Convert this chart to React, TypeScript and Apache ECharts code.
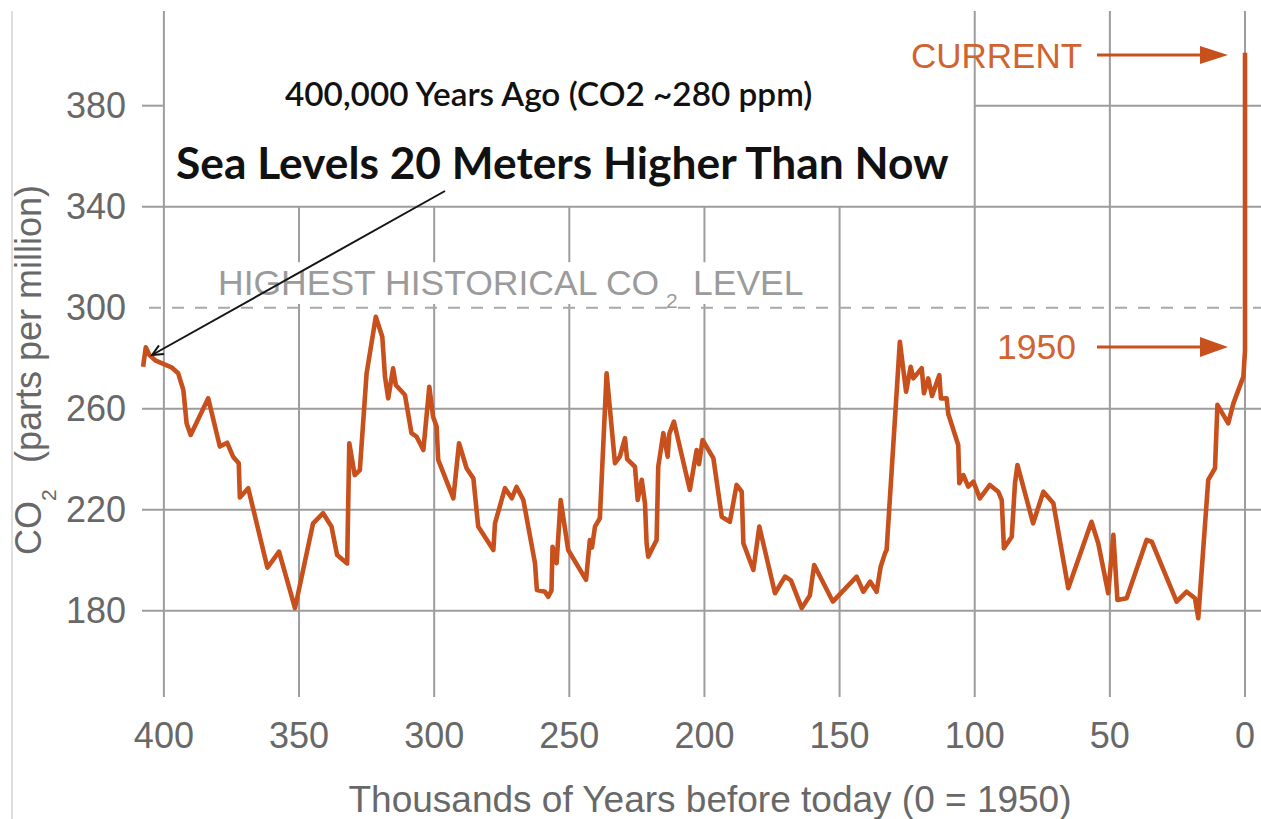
import React, { useEffect, useRef } from 'react';
import * as echarts from 'echarts';

// ---- axis definitions ----
const X_TICKS = [400, 350, 300, 250, 200, 150, 100, 50, 0];
const Y_TICKS = [180, 220, 260, 300, 340, 380];
const HIGHEST_HISTORICAL = 300;
const X_MIN = -5.92;
const X_MAX = 408.1;
const Y_MIN = 145.8;
const Y_MAX = 417.5;

// grid segments in data units (the reference leaves gaps behind its annotations)
// vertical: [x, yTop, yBottom]
const V_GRID = [
  [400, Y_MAX, Y_MIN],
  [350, 340, 318], [350, 301.5, Y_MIN],
  [300, 340, 318], [300, 301.5, Y_MIN],
  [250, 340, 318], [250, 301.5, Y_MIN],
  [200, 340, 318], [200, 301.5, Y_MIN],
  [150, 340, Y_MIN],
  [100, Y_MAX, Y_MIN],
  [50, Y_MAX, Y_MIN],
  [0, Y_MAX, Y_MIN],
];
// horizontal: [xFrom, y, xTo]
const H_GRID = [
  [X_MAX, 380, 400], [100, 380, X_MIN],
  [X_MAX, 340, X_MIN],
  [X_MAX, 260, X_MIN],
  [X_MAX, 220, X_MIN],
  [X_MAX, 180, X_MIN],
];

// ---- data: thousands of years before 1950, CO2 ppm ----
const YEARS_KYR = [
  407.7, 406.7, 405.4, 403.0, 397.2, 394.7, 392.8, 391.6, 390.1, 383.6,
  379.3, 376.6, 374.4, 372.3, 371.9, 368.8, 361.7, 357.4, 351.5, 344.8,
  341.1, 338.0, 335.9, 332.2, 331.4, 329.4, 327.5, 325.0, 321.6, 319.2,
  318.2, 317.0, 315.2, 314.2, 310.8, 308.4, 306.5, 304.0, 301.8, 300.4,
  299.1, 298.5, 292.9, 290.8, 288.0, 285.5, 283.7, 278.1, 277.5, 273.8,
  271.3, 269.5, 267.0, 262.7, 262.0, 259.0, 257.8, 256.6, 256.2, 254.7,
  253.2, 250.4, 243.8, 242.4, 241.6, 240.5, 238.7, 236.2, 233.1, 231.3,
  229.4, 228.6, 225.7, 224.7, 223.2, 222.0, 221.4, 220.8, 217.7, 217.1,
  215.2, 213.6, 213.0, 211.3, 205.4, 202.9, 202.0, 200.7, 196.7, 193.6,
  190.6, 188.1, 186.2, 185.6, 181.9, 179.7, 173.9, 170.2, 168.0, 164.0,
  161.0, 159.4, 152.5, 143.7, 141.2, 138.7, 136.3, 134.8, 133.2, 132.6,
  127.7, 125.4, 123.7, 122.7, 119.6, 118.8, 117.2, 115.8, 113.1, 112.5,
  110.4, 109.8, 106.1, 105.7, 104.2, 102.4, 100.5, 98.1, 94.4, 91.3,
  90.0, 89.2, 86.3, 85.1, 84.2, 78.4, 74.6, 70.9, 65.4, 56.8,
  54.3, 50.6, 48.7, 47.2, 43.8, 36.4, 34.5, 25.3, 21.6, 18.5,
  17.3, 13.6, 11.1, 10.2, 6.2, 4.3, 0.6, 0.0, 0.0,
];
const CO2_PPM = [
  276.6, 284.3, 281.3, 279.0, 276.4, 274.0, 267.4, 254.2, 249.6, 264.1,
  245.0, 246.5, 241.0, 238.4, 224.8, 228.5, 197.0, 203.4, 181.0, 214.6,
  218.6, 213.3, 202.0, 198.7, 246.3, 233.7, 235.7, 274.0, 296.4, 288.5,
  272.7, 264.1, 276.0, 269.4, 265.4, 250.3, 248.9, 243.6, 268.7, 256.8,
  252.9, 239.7, 224.5, 246.3, 236.4, 232.4, 213.3, 204.0, 214.6, 228.5,
  224.5, 229.0, 223.8, 198.8, 188.2, 187.5, 185.5, 188.0, 205.3, 198.8,
  223.8, 204.0, 192.2, 208.0, 205.0, 213.3, 216.6, 274.0, 238.4, 241.0,
  248.3, 240.0, 237.0, 223.8, 231.8, 222.5, 206.7, 201.4, 208.0, 237.0,
  250.3, 241.0, 250.0, 254.9, 227.8, 243.6, 238.0, 247.6, 240.4, 217.2,
  215.2, 229.8, 227.1, 206.7, 196.1, 213.3, 186.9, 193.5, 192.0, 181.0,
  186.0, 198.1, 183.6, 193.5, 187.5, 191.5, 187.5, 197.4, 202.7, 204.0,
  286.5, 266.7, 276.6, 272.0, 276.0, 266.1, 272.0, 265.0, 273.3, 264.0,
  264.1, 258.0, 245.6, 230.5, 233.7, 229.1, 231.1, 224.5, 229.8, 227.1,
  223.8, 204.7, 209.3, 230.5, 237.7, 214.6, 227.1, 222.5, 188.9, 215.2,
  206.7, 186.9, 210.0, 184.2, 184.9, 208.0, 207.3, 183.6, 187.5, 184.9,
  177.0, 231.8, 236.4, 261.5, 254.2, 262.1, 272.7, 283.0, 401.0,
];

// ---- texts ----
const X_TITLE = 'Thousands of Years before today (0 = 1950)';
const NOTE_1 = '400,000 Years Ago (CO2 ~280 ppm)';
const NOTE_2 = 'Sea Levels 20 Meters Higher Than Now';

const FONT = '"Liberation Sans", Arial, Helvetica, sans-serif';
const NOTE_FONT = 'Lato, "Open Sans", sans-serif';
const LINE_COLOR = '#c8501c';
const LABEL_ORANGE = '#d0632f';
const GRID_COLOR = '#9d9d9d';
const AXIS_TEXT = '#686868';

function fitSize(text: string, weight: string | number, family: string, target: number, base = 40) {
  try {
    const ctx = document.createElement('canvas').getContext('2d');
    if (!ctx) return base;
    ctx.font = `${weight} ${base}px ${family}`;
    const w = ctx.measureText(text).width;
    return w > 0 ? (base * target) / w : base;
  } catch (e) {
    return base;
  }
}

export default function App() {
  const ref = useRef<HTMLDivElement>(null);

  useEffect(() => {
    document.body.style.margin = '0';
    if (!ref.current) return;
    const chart = echarts.init(ref.current, null, { renderer: 'svg' });

    const lineData = YEARS_KYR.map((x, i) => [x, CO2_PPM[i]]);

    const baseOption: any = {
      animation: false,
      textStyle: { fontFamily: FONT },
      grid: { left: 142, right: 0, top: 11, bottom: 122 },
      xAxis: {
        type: 'value',
        min: X_MIN,
        max: X_MAX,
        inverse: true,
        axisLine: { show: false },
        axisTick: { show: false },
        splitLine: { show: false },
        axisLabel: { customValues: X_TICKS, fontSize: 36, color: AXIS_TEXT, margin: 20, fontFamily: FONT },
      },
      yAxis: {
        type: 'value',
        min: Y_MIN,
        max: Y_MAX,
        axisLine: { show: false },
        axisTick: { show: false },
        splitLine: { show: false },
        axisLabel: { customValues: Y_TICKS, fontSize: 36, color: AXIS_TEXT, margin: 16, fontFamily: FONT },
      },
      series: [
        {
          type: 'line',
          name: 'CO2',
          z: 3,
          data: lineData,
          showSymbol: false,
          symbol: 'none',
          smooth: false,
          lineStyle: { color: LINE_COLOR, width: 4.6, join: 'round' },
          itemStyle: { color: LINE_COLOR },
        },
      ],
    };
    chart.setOption(baseOption);

    // grid lines placed through the chart's own scales
    const px = (x: number, y: number) => chart.convertToPixel({ xAxisIndex: 0, yAxisIndex: 0 }, [x, y]) as number[];
    const gridEls: any[] = [];
    V_GRID.forEach((d) => {
      const a = px(d[0], d[1]);
      const b = px(d[0], d[2]);
      gridEls.push({ type: 'line', z: 1, silent: true, shape: { x1: a[0], y1: a[1], x2: b[0], y2: b[1] }, style: { stroke: GRID_COLOR, lineWidth: 2 } });
    });
    H_GRID.forEach((d) => {
      const a = px(d[0], d[1]);
      const b = px(d[2], d[1]);
      gridEls.push({ type: 'line', z: 1, silent: true, shape: { x1: a[0], y1: a[1], x2: b[0], y2: b[1] }, style: { stroke: GRID_COLOR, lineWidth: 2 } });
    });
    {
      const a = px(X_MAX, HIGHEST_HISTORICAL);
      const b = px(X_MIN, HIGHEST_HISTORICAL);
      gridEls.push({
        type: 'line', z: 1, silent: true,
        shape: { x1: a[0] + 7, y1: a[1], x2: b[0], y2: b[1] },
        style: { stroke: '#a9a9a9', lineWidth: 2, lineDash: [12, 11] },
      });
    }

    const note1Size = fitSize(NOTE_1, 600, NOTE_FONT, 530, 30);
    const note2Size = fitSize(NOTE_2, 700, NOTE_FONT, 775, 44);

    const t = (x: number, y: number, text: string, size: number, fill: string, extra: any = {}) => ({
      type: 'text', z: 10, x, y, rotation: extra.rotation || 0,
      style: {
        text, fontSize: size, fontFamily: extra.family || FONT, fontWeight: extra.weight || 'normal',
        fill, align: extra.align || 'left', verticalAlign: 'middle',
      },
    });

    const annotationEls: any[] = [
      { type: 'line', z: 1, shape: { x1: 12, y1: 11, x2: 12, y2: 819 }, style: { stroke: '#dedede', lineWidth: 2 } },
      t(218, 283, 'HIGHEST HISTORICAL CO', 35.5, '#9b9b9b'),
      t(666, 300, '2', 21, '#9b9b9b'),
      t(693, 283, 'LEVEL', 35.5, '#9b9b9b'),
      t(28, 555, 'CO', 36, AXIS_TEXT, { rotation: Math.PI / 2 }),
      t(48, 501, '2', 21, AXIS_TEXT, { rotation: Math.PI / 2 }),
      t(28, 463, '(parts per million)', 36, AXIS_TEXT, { rotation: Math.PI / 2 }),
      t(710, 799, X_TITLE, 37, AXIS_TEXT, { align: 'center' }),
      t(911, 55, 'CURRENT', 35, LABEL_ORANGE),
      { type: 'line', z: 10, shape: { x1: 1097, y1: 55, x2: 1204, y2: 55 }, style: { stroke: LINE_COLOR, lineWidth: 3 } },
      { type: 'polygon', z: 10, shape: { points: [[1228, 55], [1200, 46], [1200, 64]] }, style: { fill: LINE_COLOR } },
      t(997, 347, '1950', 35.5, LABEL_ORANGE),
      { type: 'line', z: 10, shape: { x1: 1097, y1: 347, x2: 1204, y2: 347 }, style: { stroke: LINE_COLOR, lineWidth: 3 } },
      { type: 'polygon', z: 10, shape: { points: [[1228, 347], [1200, 337], [1200, 357]] }, style: { fill: LINE_COLOR } },
      t(285, 93, NOTE_1, note1Size, '#111111', { family: NOTE_FONT, weight: 600 }),
      t(176, 161, NOTE_2, note2Size, '#111111', { family: NOTE_FONT, weight: 700 }),
      { type: 'line', z: 10, shape: { x1: 445, y1: 191, x2: 152, y2: 355 }, style: { stroke: '#151515', lineWidth: 2 } },
      {
        type: 'polyline', z: 10,
        shape: { points: [[164, 354.1], [152, 355], [159, 345.3]] },
        style: { stroke: '#151515', lineWidth: 2, fill: 'none' },
      },
    ];

    chart.setOption({ graphic: { elements: [...gridEls, ...annotationEls] } });
    return () => chart.dispose();
  }, []);

  return <div ref={ref} style={{ width: 1261, height: 819 }} />;
}
